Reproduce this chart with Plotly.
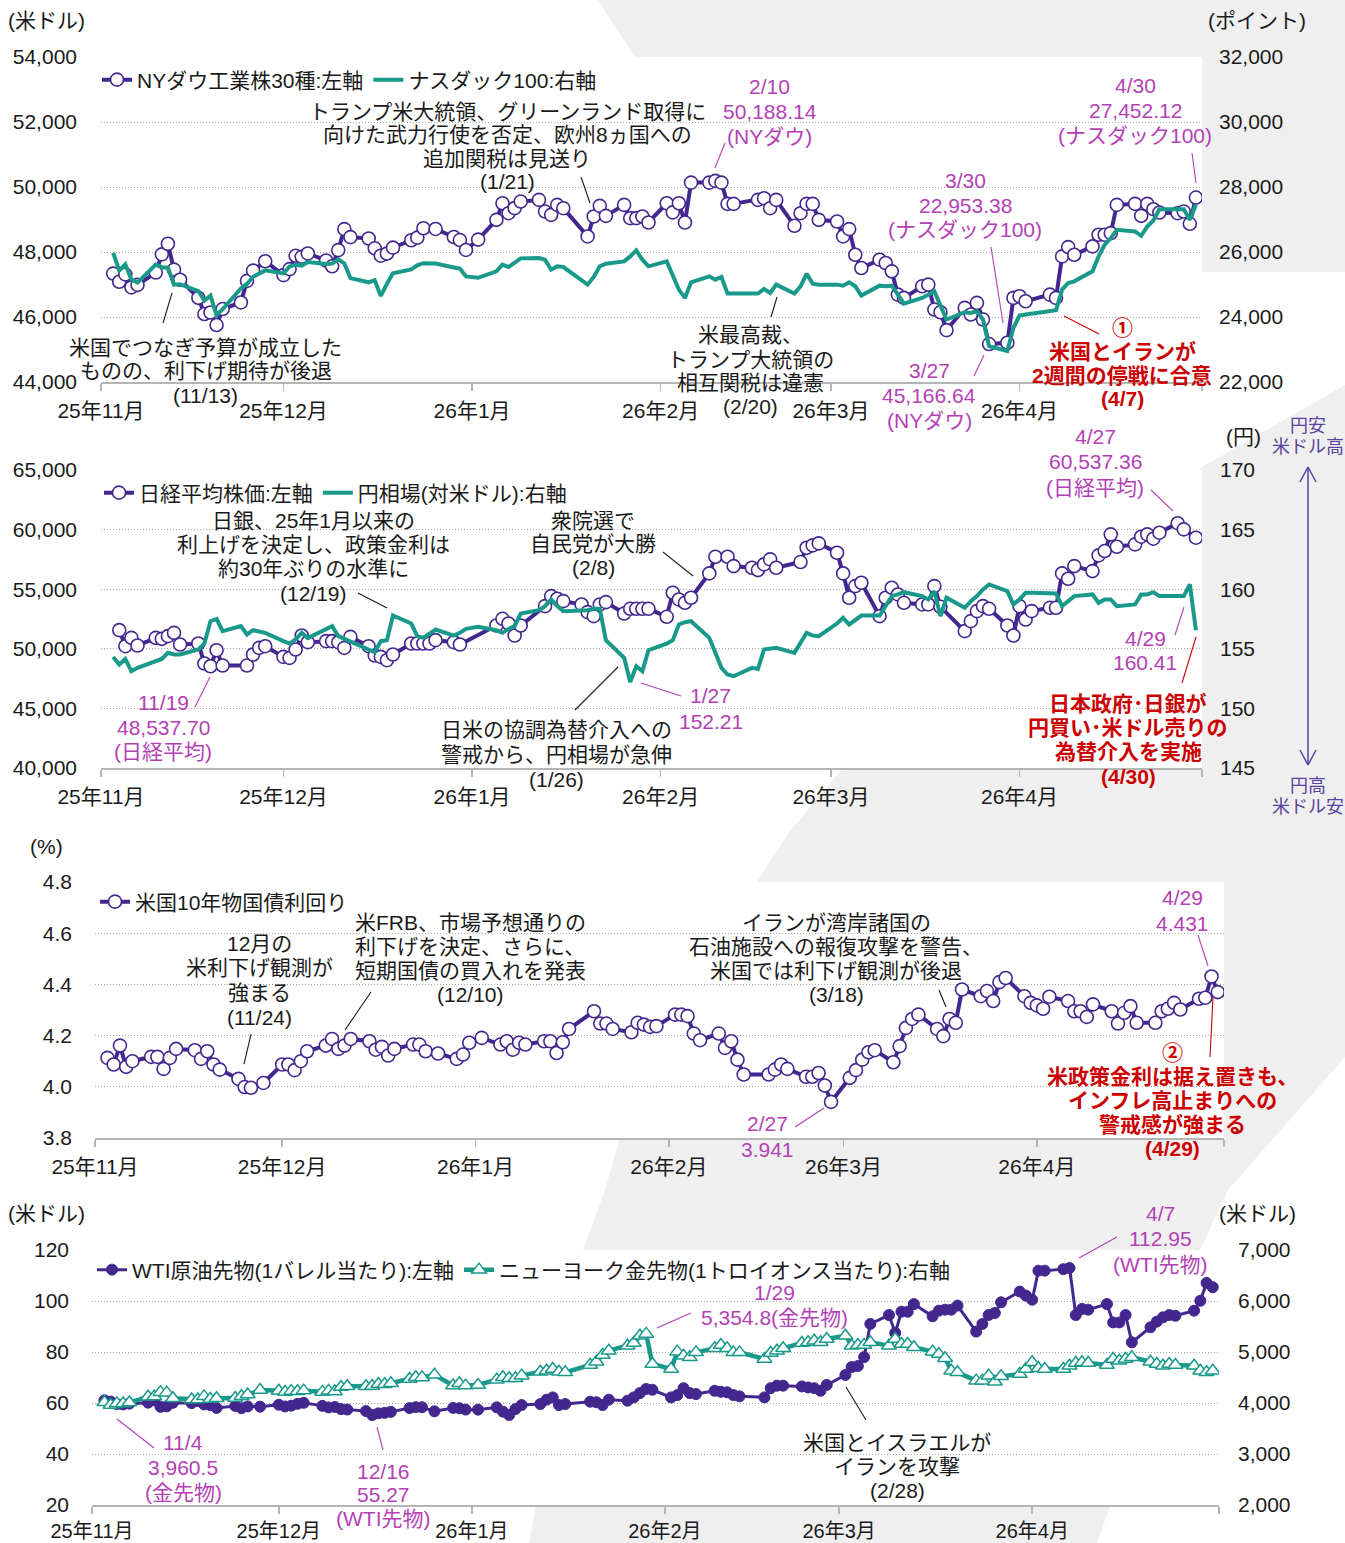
import plotly.graph_objects as go

W, H = 1345, 1543

# ---------------- trading days (by month) ----------------
US_STOCK_DAYS = {
    "2025-11": [3, 4, 5, 6, 7, 10, 11, 12, 13, 14, 17, 18, 19, 20, 21, 24, 25, 26, 28],
    "2025-12": [1, 2, 3, 4, 5, 8, 9, 10, 11, 12, 15, 16, 17, 18, 19, 22, 23, 24, 26, 29, 30, 31],
    "2026-01": [2, 5, 6, 7, 8, 9, 12, 13, 14, 15, 16, 20, 21, 22, 23, 26, 27, 28, 29, 30],
    "2026-02": [2, 3, 4, 5, 6, 9, 10, 11, 12, 13, 17, 18, 19, 20, 23, 24, 25, 26, 27],
    "2026-03": [2, 3, 4, 5, 6, 9, 10, 11, 12, 13, 16, 17, 18, 19, 20, 23, 24, 25, 26, 27, 30, 31],
    "2026-04": [1, 2, 6, 7, 8, 9, 10, 13, 14, 15, 16, 17, 20, 21, 22, 23, 24, 27, 28, 29, 30],
}
US_MKT_DAYS = dict(US_STOCK_DAYS)
US_MKT_DAYS["2026-04"] = [1, 2, 3, 6, 7, 8, 9, 10, 13, 14, 15, 16, 17, 20, 21, 22, 23, 24, 27, 28, 29, 30]
JP_DAYS = {
    "2025-11": [4, 5, 6, 7, 10, 11, 12, 13, 14, 17, 18, 19, 20, 21, 25, 26, 27, 28],
    "2025-12": [1, 2, 3, 4, 5, 8, 9, 10, 11, 12, 15, 16, 17, 18, 19, 22, 23, 24, 25, 26, 29, 30],
    "2026-01": [5, 6, 7, 8, 9, 13, 14, 15, 16, 19, 20, 21, 22, 23, 26, 27, 28, 29, 30],
    "2026-02": [2, 3, 4, 5, 6, 9, 10, 12, 13, 16, 17, 18, 19, 20, 24, 25, 26, 27],
    "2026-03": [2, 3, 4, 5, 6, 9, 10, 11, 12, 13, 16, 17, 18, 19, 23, 24, 25, 26, 27, 30, 31],
    "2026-04": [1, 2, 3, 6, 7, 8, 9, 10, 13, 14, 15, 16, 17, 20, 21, 22, 23, 24, 27, 28, 30],
}
FX_DAYS = {
    "2025-11": [3, 4, 5, 6, 7, 10, 11, 12, 13, 14, 17, 18, 19, 20, 21, 24, 25, 26, 27, 28],
    "2025-12": [1, 2, 3, 4, 5, 8, 9, 10, 11, 12, 15, 16, 17, 18, 19, 22, 23, 24, 26, 29, 30, 31],
    "2026-01": [2, 5, 6, 7, 8, 9, 12, 13, 14, 15, 16, 19, 20, 21, 22, 23, 26, 27, 28, 29, 30],
    "2026-02": [2, 3, 4, 5, 6, 9, 10, 11, 12, 13, 16, 17, 18, 19, 20, 23, 24, 25, 26, 27],
    "2026-03": [2, 3, 4, 5, 6, 9, 10, 11, 12, 13, 16, 17, 18, 19, 20, 23, 24, 25, 26, 27, 30, 31],
    "2026-04": [1, 2, 3, 6, 7, 8, 9, 10, 13, 14, 15, 16, 17, 20, 21, 22, 23, 24, 27, 28, 29, 30],
}

# ---------------- series values ----------------
DOW = [47336, 47085, 47311, 46912, 46987, 47368, 47927, 48254, 47457, 47147, 46590, 46091, 46138, 45752, 46245, 46448, 47112, 47427, 47716,
       47289, 47474, 47883, 47851, 47955, 47739, 47560, 48057, 48704, 48458, 48416, 48114, 47886, 47951, 48134, 48362, 48442, 48731, 48710, 48461, 48367, 48063,
       48382, 48990, 49501, 49194, 49350, 49552, 49603, 49245, 49143, 49450, 49348, 48479, 49092, 49420, 49112, 49450, 49041, 49041, 49092, 48908,
       49500, 49220, 49501, 48908, 50135, 50135, 50188, 50135, 49481, 49481, 49603, 49654, 49348, 49603, 48806, 49194, 49481, 49481, 48990,
       48939, 48479, 48704, 47916, 47507, 47763, 47661, 47405, 46689, 46587, 46945, 46996, 46229, 46147, 45595, 46280, 46076, 46434, 45922, 45167, 45207, 46587,
       46638, 46485, 46689, 46587, 47865, 48151, 47916, 48172, 48530, 48530, 48581, 49450, 49481, 49113, 49481, 49317, 49215, 49194, 49245, 48867, 49675]
NDX = [25972, 25435, 25621, 25149, 25059, 25611, 25533, 25518, 24993, 25008, 24799, 24504, 24655, 24054, 24239, 24877, 25017, 25237, 25435,
       25343, 25556, 25606, 25581, 25692, 25628, 25645, 25776, 25648, 25196, 25067, 25132, 24648, 25019, 25346, 25462, 25588, 25656, 25644, 25525, 25488, 25249,
       25206, 25405, 25609, 25538, 25661, 25804, 25814, 25763, 25456, 25558, 25538, 24996, 25231, 25558, 25640, 25712, 25865, 26049, 25763, 25558,
       25712, 25252, 24843, 24587, 25068, 25252, 25149, 25231, 24720, 24720, 24720, 24863, 24740, 24996, 24720, 24945, 25333, 25027, 24996,
       24996, 24965, 25068, 24945, 24659, 24965, 24945, 24965, 24689, 24413, 24587, 24689, 24791, 24352, 23922, 24147, 24127, 24178, 23922, 23104, 22953, 23667,
       24045, 24076, 24178, 24209, 24843, 25047, 25098, 25405, 25865, 26223, 26427, 26683, 26632, 26499, 26785, 26969, 27317, 27317, 27317, 26990, 27452]
NIKKEI = [51564, 50220, 50920, 50276, 50920, 50836, 51060, 51340, 50360, 50444, 48764, 48538, 49884, 48596, 48596, 49520, 50080, 50220,
          49324, 49240, 49940, 51116, 50556, 50640, 50640, 50556, 50080, 51004, 50220, 49436, 49324, 49044, 49520, 50444, 50444, 50444, 50444, 50724, 50556, 50360,
          51956, 52516, 52124, 51116, 51956, 53580, 54420, 54196, 54000, 53720, 53076, 52740, 53720, 53916, 52964, 53356, 53356, 53356, 53356,
          52684, 54700, 54140, 53860, 54280, 56324, 57724, 57724, 56940, 56800, 56604, 57080, 57500, 56800, 57276, 58480, 58676, 58844,
          58060, 56324, 54280, 55260, 55540, 52740, 54280, 55120, 54560, 53860, 53720, 53720, 55260, 53524, 51480, 52320, 53160, 53580, 53356, 51956, 51116,
          53580, 52460, 53160, 53440, 53440, 56324, 55876, 56940, 56520, 57836, 58200, 59600, 58564, 58760, 59404, 59600, 59236, 59740, 60537, 60020, 59320]
USDJPY = [154.32, 153.68, 154.15, 153.12, 153.40, 153.96, 154.15, 154.66, 154.52, 154.52, 154.94, 155.44, 157.32, 157.51, 156.48, 156.90, 156.20, 156.56, 156.48, 156.34,
          155.64, 155.44, 155.80, 156.34, 155.90, 156.62, 156.90, 156.06, 155.83, 155.55, 154.94, 154.71, 155.64, 155.72, 157.79, 157.12, 156.06, 155.92, 156.62, 156.11, 156.34, 156.67,
          156.84, 156.56, 156.34, 156.67, 156.90, 157.96, 158.24, 158.58, 159.14, 158.58, 158.16, 158.16, 158.24, 158.35, 158.35, 155.72, 154.24, 152.21, 153.54, 153.12, 154.88,
          155.44, 155.72, 157.04, 157.23, 157.32, 155.92, 154.66, 153.40, 152.84, 152.70, 153.40, 153.31, 154.94, 154.99, 155.08, 154.66, 155.55, 156.34, 156.11, 156.06,
          157.12, 157.60, 157.04, 157.46, 157.79, 157.79, 158.58, 159.42, 159.56, 159.75, 159.42, 159.14, 159.84, 157.74, 159.28, 158.44, 159.00, 159.42, 159.98, 160.40, 159.84, 158.72,
          159.14, 159.70, 159.70, 159.64, 159.64, 158.58, 159.00, 159.42, 159.56, 158.86, 159.14, 159.14, 158.58, 158.72, 159.56, 159.56, 159.75, 159.42, 159.42, 159.42, 160.41, 156.56]
UST10Y = [4.113, 4.087, 4.161, 4.078, 4.100, 4.117, 4.117, 4.070, 4.113, 4.148, 4.143, 4.109, 4.139, 4.087, 4.067, 4.031, 3.999, 3.996, 4.015,
          4.087, 4.087, 4.065, 4.100, 4.139, 4.161, 4.187, 4.148, 4.161, 4.187, 4.178, 4.145, 4.156, 4.122, 4.148, 4.165, 4.165, 4.139, 4.130, 4.109, 4.126, 4.172,
          4.191, 4.165, 4.178, 4.145, 4.172, 4.165, 4.178, 4.178, 4.132, 4.174, 4.226, 4.295, 4.247, 4.247, 4.226, 4.213, 4.250, 4.243, 4.234, 4.237,
          4.282, 4.282, 4.276, 4.208, 4.182, 4.208, 4.152, 4.178, 4.106, 4.048, 4.048, 4.067, 4.087, 4.070, 4.039, 4.039, 4.054, 4.005, 3.941,
          4.035, 4.065, 4.106, 4.135, 4.143, 4.096, 4.159, 4.230, 4.265, 4.282, 4.226, 4.198, 4.265, 4.250, 4.380, 4.354, 4.374, 4.335, 4.409, 4.425, 4.354, 4.328,
          4.318, 4.305, 4.352, 4.335, 4.295, 4.295, 4.273, 4.322, 4.295, 4.247, 4.289, 4.315, 4.250, 4.250, 4.295, 4.305, 4.328, 4.302, 4.344, 4.348, 4.431, 4.370]
WTI = [61.05, 60.56, 59.60, 59.43, 59.75, 60.13, 61.04, 58.49, 58.69, 60.09, 59.91, 60.74, 59.44, 59.14, 58.06, 58.84, 57.95, 58.65, 58.55,
       59.32, 58.64, 58.95, 59.67, 60.08, 58.88, 58.25, 58.46, 57.60, 57.44, 56.82, 55.27, 55.94, 56.15, 56.52, 58.01, 58.38, 58.35, 56.74, 58.08, 57.95, 57.42,
       57.4, 58.3, 56.6, 55.3, 57.6, 59.2, 59.6, 61.3, 62.2, 59.2, 59.6, 60.5, 60.3, 59.2, 61.3, 60.9, 62.2, 63.9, 65.5, 65.2,
       62.2, 63.1, 65.8, 63.9, 63.5, 64.8, 64.4, 64.2, 63.1, 62.6, 62.2, 65.8, 66.8, 66.8, 66.5, 66.1, 65.8, 64.8, 67.1,
       71.0, 74.1, 74.5, 78.0, 91.0, 94.5, 87.5, 95.8, 95.8, 98.8, 94.0, 96.2, 96.6, 96.6, 98.2, 88.0, 91.0, 94.5, 95.3, 99.5, 103.7, 102.1,
       100.5, 111.9, 111.9, 112.5, 112.95, 94.5, 96.9, 96.6, 98.8, 91.6, 91.6, 94.5, 83.8, 89.7, 91.9, 93.6, 94.5, 94.2, 96.2, 100.1, 107.1, 105.4]
GOLD = [4014, 3960.5, 3992, 3990, 4009, 4122, 4127, 4213, 4203, 4094, 4069, 4067, 4130, 4079, 4094, 4096, 4133, 4165, 4254,
        4239, 4216, 4233, 4230, 4243, 4218, 4238, 4224, 4313, 4330, 4330, 4333, 4373, 4366, 4387, 4469, 4505, 4502, 4552, 4343, 4386, 4341,
        4353, 4458, 4503, 4484, 4484, 4536, 4614, 4634, 4667, 4614, 4601, 4745, 4810, 4941, 5026, 5124, 5176, 5320, 5354.8, 4765,
        4667, 5007, 4928, 4895, 4993, 5072, 5137, 5072, 4993, 4993, 4863, 4980, 5026, 5072, 5176, 5190, 5222, 5190, 5255,
        5320, 5124, 5137, 5137, 5190, 5124, 5255, 5157, 5157, 5092, 5007, 4961, 4876, 4634, 4601, 4438, 4438, 4536, 4418, 4523, 4569, 4667,
        4797, 4680, 4667, 4667, 4732, 4784, 4797, 4784, 4745, 4863, 4830, 4863, 4895, 4810, 4765, 4732, 4765, 4745, 4732, 4634, 4601, 4634]

MONTH_TICKS = ["2025-11-01", "2025-12-01", "2026-01-01", "2026-02-01", "2026-03-01", "2026-04-01", "2026-05-01"]
MONTH_LABELS = ["25年11月", "25年12月", "26年1月", "26年2月", "26年3月", "26年4月", ""]


def month_days(daymap):
    out = []
    for ym, days in daymap.items():
        out += [f"{ym}-{d:02d}" for d in days]
    return out


us_dates = month_days(US_STOCK_DAYS)
mkt_dates = month_days(US_MKT_DAYS)
jp_dates = month_days(JP_DAYS)
fx_dates = month_days(FX_DAYS)
assert len(us_dates) == len(DOW) == len(NDX), (len(us_dates), len(DOW), len(NDX))
assert len(jp_dates) == len(NIKKEI), (len(jp_dates), len(NIKKEI))
assert len(fx_dates) == len(USDJPY), (len(fx_dates), len(USDJPY))
assert len(mkt_dates) == len(UST10Y) == len(WTI) == len(GOLD), (len(mkt_dates), len(UST10Y), len(WTI), len(GOLD))

# ---------------- style ----------------
PURPLE = "#43278f"
TEAL = "#18998a"
MAG = "#b43fb6"
RED = "#cc0000"
BLK = "#1a1a1a"
ARROWC = "#5a40a0"
AXC = "#b5b5b5"
GRIDC = "#a8a8a8"
BAND = "#efefef"
FONT = "Liberation Sans, Arial, Noto Sans CJK JP, sans-serif"


def fx(x):
    return x / W


def fy(y):
    return 1 - y / H


# panel geometry in pixels: (x0, x1, ytop, ybottom)
P1 = (101, 1202, 57, 382)
P2 = (101, 1202, 470, 768)
P3 = (95, 1224, 882, 1138)
P4 = (92, 1219, 1250, 1505)


def xdom(p):
    return [fx(p[0]), fx(p[1])]


def ydom(p):
    return [fy(p[3]), fy(p[2])]


fig = go.Figure()

# panel 1
fig.add_trace(go.Scatter(x=us_dates, y=DOW, name="NYダウ工業株30種:左軸", mode="lines+markers",
                         line=dict(color=PURPLE, width=4),
                         marker=dict(symbol="circle", size=13, color="white", line=dict(color=PURPLE, width=1.6)),
                         xaxis="x", yaxis="y", legend="legend"))
fig.add_trace(go.Scatter(x=us_dates, y=NDX, name="ナスダック100:右軸", mode="lines",
                         line=dict(color=TEAL, width=4), xaxis="x", yaxis="y2", legend="legend"))
# panel 2
fig.add_trace(go.Scatter(x=jp_dates, y=NIKKEI, name="日経平均株価:左軸", mode="lines+markers",
                         line=dict(color=PURPLE, width=4),
                         marker=dict(symbol="circle", size=13, color="white", line=dict(color=PURPLE, width=1.6)),
                         xaxis="x2", yaxis="y3", legend="legend2"))
fig.add_trace(go.Scatter(x=fx_dates, y=USDJPY, name="円相場(対米ドル):右軸", mode="lines",
                         line=dict(color=TEAL, width=4), xaxis="x2", yaxis="y4", legend="legend2"))
# panel 3
fig.add_trace(go.Scatter(x=mkt_dates, y=UST10Y, name="米国10年物国債利回り", mode="lines+markers",
                         line=dict(color=PURPLE, width=4),
                         marker=dict(symbol="circle", size=13, color="white", line=dict(color=PURPLE, width=1.6)),
                         xaxis="x3", yaxis="y5", legend="legend3"))
# panel 4
fig.add_trace(go.Scatter(x=mkt_dates, y=WTI, name="WTI原油先物(1バレル当たり):左軸", mode="lines+markers",
                         line=dict(color=PURPLE, width=3),
                         marker=dict(symbol="circle", size=11, color=PURPLE, line=dict(color=PURPLE, width=1)),
                         xaxis="x4", yaxis="y6", legend="legend4"))
fig.add_trace(go.Scatter(x=mkt_dates, y=GOLD, name="ニューヨーク金先物(1トロイオンス当たり):右軸", mode="lines+markers",
                         line=dict(color=TEAL, width=4.5),
                         marker=dict(symbol="triangle-up", size=13, color="white", line=dict(color=TEAL, width=1.5)),
                         xaxis="x4", yaxis="y7", legend="legend4"))


def xaxis_cfg(p, anchor, size=21, standoff=2):
    return dict(domain=xdom(p), anchor=anchor, type="date", range=["2025-11-01", "2026-05-01"],
                tickmode="array", tickvals=MONTH_TICKS, ticktext=MONTH_LABELS,
                showgrid=False, zeroline=False, showline=True, linecolor=AXC, linewidth=2,
                ticks="outside", ticklen=7, tickwidth=1.5, tickcolor=AXC,
                tickfont=dict(size=size, color=BLK), ticklabelstandoff=standoff, fixedrange=True)


def yaxis_cfg(p, anchor, rng, dtick, fmt, side="left", grid=True, overlay=None, standoff=22):
    d = dict(domain=ydom(p), anchor=anchor, range=rng, tick0=rng[0], dtick=dtick, tickformat=fmt,
             side=side, showgrid=grid, gridcolor=GRIDC, gridwidth=1, griddash="1px,2px",
             zeroline=False, showline=False, ticks="", tickfont=dict(size=21, color=BLK),
             ticklabelstandoff=standoff, fixedrange=True)
    if overlay:
        d["overlaying"] = overlay
    return d


def legend_cfg(x, y):
    return dict(orientation="h", x=fx(x), y=fy(y), xanchor="left", yanchor="middle",
                bgcolor="rgba(0,0,0,0)", borderwidth=0, font=dict(size=21, color=BLK),
                itemwidth=30, traceorder="normal", itemclick=False, itemdoubleclick=False)


# ---------------- background shapes ----------------
def path(pts):
    return "M " + " L ".join(f"{fx(x):.5f},{fy(y):.5f}" for x, y in pts) + " Z"


shapes = []
shapes.append(dict(type="path", xref="paper", yref="paper", layer="below", line=dict(width=0), fillcolor=BAND,
                   path=path([(598, 0), (1345, 0), (1345, 272), (1202, 272), (1202, 57), (635, 57)])))
shapes.append(dict(type="path", xref="paper", yref="paper", layer="below", line=dict(width=0), fillcolor=BAND,
                   path=path([(1345, 385), (1289, 417), (1202, 467), (843, 768), (791, 830), (756, 883),
                              (620, 1138), (605, 1190), (583, 1250), (529, 1543), (1097, 1543),
                              (1200, 1250), (1228, 1190), (1345, 1057)])))
for p in (P1, P2, P3, P4):
    shapes.append(dict(type="rect", xref="paper", yref="paper", layer="below", line=dict(width=0),
                       fillcolor="white", x0=fx(p[0]), x1=fx(p[1]), y0=fy(p[3]), y1=fy(p[2])))

# leader lines
LEADERS = [
    (581, 177, 590, 203, BLK), (172, 293, 163, 323, BLK), (725, 143, 715, 168, MAG), (777, 297, 771, 317, BLK),
    (991, 247, 1003, 323, MAG), (984, 355, 974, 376, MAG), (1192, 153, 1196, 183, MAG), (1064, 316, 1099, 334, RED),
    (358, 593, 387, 608, BLK), (663, 552, 693, 576, BLK), (195, 707, 210, 677, MAG), (575, 710, 618, 667, BLK),
    (641, 683, 681, 696, MAG), (1151, 490, 1173, 511, MAG), (1175, 635, 1184, 607, MAG), (1182, 683, 1196, 637, RED),
    (251, 1034, 244, 1064, BLK), (371, 992, 345, 1030, BLK), (939, 990, 946, 1007, BLK), (795, 1127, 824, 1108, MAG),
    (1198, 935, 1208, 966, MAG), (1210, 1057, 1213, 997, RED),
    (117, 1419, 154, 1448, MAG), (377, 1427, 383, 1450, MAG), (657, 1328, 691, 1313, MAG), (1079, 1258, 1117, 1237, MAG),
    (846, 1387, 866, 1420, BLK),
]
for x0, y0, x1, y1, c in LEADERS:
    shapes.append(dict(type="line", xref="paper", yref="paper", x0=fx(x0), y0=fy(y0), x1=fx(x1), y1=fy(y1),
                       line=dict(color=c, width=1.1), layer="above"))

# yen direction arrow
for x0, y0, x1, y1 in [(1308, 467, 1308, 765), (1308, 467, 1300, 482), (1308, 467, 1316, 482),
                       (1308, 765, 1300, 750), (1308, 765, 1316, 750)]:
    shapes.append(dict(type="line", xref="paper", yref="paper", x0=fx(x0), y0=fy(y0), x1=fx(x1), y1=fy(y1),
                       line=dict(color=ARROWC, width=1.5), layer="above"))

# ---------------- text annotations ----------------
annotations = []


def note(lines, cx, y0, dy=24.5, color=BLK, bold=False, size=21):
    for i, t in enumerate(lines):
        txt = f"<b>{t}</b>" if bold else t
        annotations.append(dict(text=txt, x=fx(cx), y=fy(y0 + i * dy), xref="paper", yref="paper",
                                xanchor="center", yanchor="middle", showarrow=False,
                                font=dict(size=size, color=color, family=FONT)))


# axis unit labels
note(["(米ドル)"], 46, 21)
note(["(ポイント)"], 1257, 20)
note(["(円)"], 1243, 437)
note(["(%)"], 47, 846)
note(["(米ドル)"], 46, 1213)
note(["(米ドル)"], 1257, 1213)
note(["円安", "米ドル高"], 1308, 426, dy=21, color=ARROWC, size=18)
note(["円高", "米ドル安"], 1308, 786, dy=21, color=ARROWC, size=18)

# panel 1
note(["トランプ米大統領、グリーンランド取得に", "向けた武力行使を否定、欧州8ヵ国への", "追加関税は見送り", "(1/21)"], 507, 111, dy=23.6)
note(["米国でつなぎ予算が成立した", "ものの、利下げ期待が後退", "(11/13)"], 206, 347, dy=24)
note(["2/10", "50,188.14", "(NYダウ)"], 770, 87, dy=25, color=MAG)
note(["米最高裁、", "トランプ大統領の", "相互関税は違憲", "(2/20)"], 750, 335, dy=24)
note(["3/30", "22,953.38", "(ナスダック100)"], 965, 180, dy=25, color=MAG)
note(["3/27", "45,166.64", "(NYダウ)"], 929, 370, dy=25, color=MAG)
note(["4/30", "27,452.12", "(ナスダック100)"], 1135, 85, dy=25, color=MAG)
note(["①", "米国とイランが", "2週間の停戦に合意", "(4/7)"], 1122, 328, dy=23.5, color=RED, bold=True)

# panel 2
note(["日銀、25年1月以来の", "利上げを決定し、政策金利は", "約30年ぶりの水準に", "(12/19)"], 313, 520, dy=24.5)
note(["衆院選で", "自民党が大勝", "(2/8)"], 593, 520, dy=23.5)
note(["11/19", "48,537.70", "(日経平均)"], 163, 702, dy=25, color=MAG)
note(["日米の協調為替介入への", "警戒から、円相場が急伸", "(1/26)"], 556, 730, dy=24.5)
note(["1/27", "152.21"], 711, 695, dy=26, color=MAG)
note(["4/27", "60,537.36", "(日経平均)"], 1095, 436, dy=25.5, color=MAG)
note(["4/29", "160.41"], 1145, 638, dy=25, color=MAG)
note(["日本政府･日銀が", "円買い･米ドル売りの", "為替介入を実施", "(4/30)"], 1128, 703, dy=24.5, color=RED, bold=True)

# panel 3
note(["12月の", "米利下げ観測が", "強まる", "(11/24)"], 259, 943, dy=24.7)
note(["米FRB、市場予想通りの", "利下げを決定、さらに、", "短期国債の買入れを発表", "(12/10)"], 470, 922, dy=24.3)
note(["イランが湾岸諸国の", "石油施設への報復攻撃を警告、", "米国では利下げ観測が後退", "(3/18)"], 836, 922, dy=24.3)
note(["2/27", "3.941"], 767, 1123, dy=26, color=MAG)
note(["4/29", "4.431"], 1182, 897, dy=26, color=MAG)
note(["②", "米政策金利は据え置きも、", "インフレ高止まりへの", "警戒感が強まる", "(4/29)"], 1172, 1052, dy=24,
     color=RED, bold=True)

# panel 4
note(["11/4", "3,960.5", "(金先物)"], 183, 1442, dy=25, color=MAG)
note(["12/16", "55.27", "(WTI先物)"], 383, 1471, dy=23.5, color=MAG)
note(["1/29", "5,354.8(金先物)"], 774, 1292, dy=25, color=MAG)
note(["4/7", "112.95", "(WTI先物)"], 1160, 1213, dy=25.5, color=MAG)
note(["米国とイスラエルが", "イランを攻撃", "(2/28)"], 897, 1442, dy=24)

fig.update_layout(
    width=W, height=H, margin=dict(l=0, r=0, t=0, b=0, pad=0, autoexpand=False),
    paper_bgcolor="white", plot_bgcolor="rgba(0,0,0,0)",
    font=dict(family=FONT, size=21, color=BLK), separators=".,",
    showlegend=True, hovermode=False,
    xaxis=xaxis_cfg(P1, "y"),
    xaxis2=xaxis_cfg(P2, "y3"),
    xaxis3=xaxis_cfg(P3, "y5"),
    xaxis4=xaxis_cfg(P4, "y6", size=20, standoff=0),
    yaxis=yaxis_cfg(P1, "x", [44000, 54000], 2000, ",d", standoff=23),
    yaxis2=yaxis_cfg(P1, "x", [22000, 32000], 2000, ",d", side="right", grid=False, overlay="y", standoff=16),
    yaxis3=yaxis_cfg(P2, "x2", [40000, 65000], 5000, ",d", standoff=23),
    yaxis4=yaxis_cfg(P2, "x2", [145, 170], 5, "d", side="right", grid=False, overlay="y3", standoff=17),
    yaxis5=yaxis_cfg(P3, "x3", [3.8, 4.8], 0.2, ".1f", standoff=22),
    yaxis6=yaxis_cfg(P4, "x4", [20, 120], 20, "d", standoff=22),
    yaxis7=yaxis_cfg(P4, "x4", [2000, 7000], 1000, ",d", side="right", grid=False, overlay="y6", standoff=18),
    legend=legend_cfg(97, 80),
    legend2=legend_cfg(99, 493),
    legend3=legend_cfg(95, 902),
    legend4=legend_cfg(92, 1270),
    shapes=shapes,
    annotations=annotations,
)

fig.write_html("out.html", config={"displayModeBar": False, "staticPlot": True},
               post_script="document.body.style.margin='0';")
